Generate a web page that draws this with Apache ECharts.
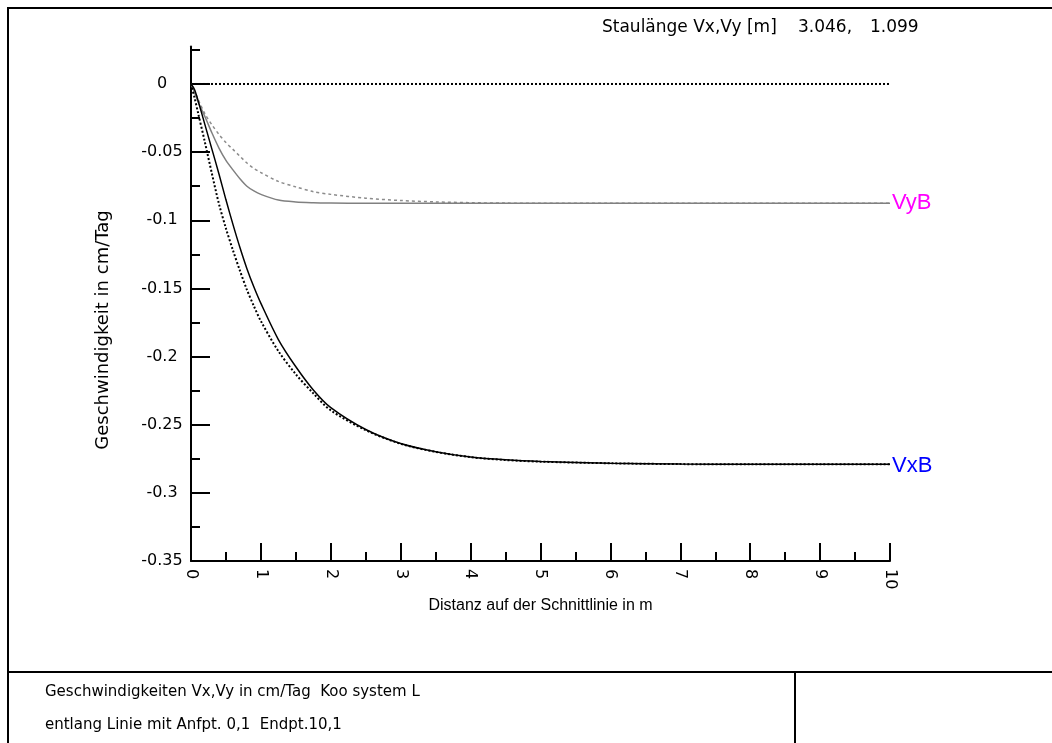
<!DOCTYPE html>
<html>
<head>
<meta charset="utf-8">
<script src="https://cdn.jsdelivr.net/npm/echarts@6/dist/echarts.min.js"></script>
<style>
  html, body { margin: 0; padding: 0; background: #fff; }
  #chart { width: 1052px; height: 743px; }
</style>
</head>
<body>
<div id="chart"></div>
<script>
  // distance along the cut line (m)
  const distX = [0, 0.05, 0.1, 0.2, 0.3, 0.4, 0.5, 0.6, 0.7, 0.8, 0.9, 1.0, 1.25, 1.5, 1.75, 2.0, 2.5, 3.0, 3.5, 4.0, 4.5, 5.0, 6.0, 7.0, 8.0, 9.0, 10.0]
  // Vx solid / dotted
  const vxB = [0, -0.004, -0.012, -0.030, -0.048, -0.066, -0.085, -0.103, -0.120, -0.1355, -0.149, -0.161, -0.1875, -0.2075, -0.2245, -0.2375, -0.2535, -0.2638, -0.2698, -0.2737, -0.2758, -0.2770, -0.2783, -0.2789, -0.279, -0.279, -0.279]
  const vxDot = [0, -0.010, -0.021, -0.043, -0.066, -0.088, -0.106, -0.122, -0.137, -0.151, -0.163, -0.174, -0.196, -0.213, -0.227, -0.2395, -0.2540, -0.2640, -0.2699, -0.2738, -0.2759, -0.2771, -0.2783, -0.2789, -0.279, -0.279, -0.279]
  // Vy solid / dashed (grey)
  const vyB = [0, -0.006, -0.013, -0.024, -0.036, -0.047, -0.056, -0.063, -0.0695, -0.075, -0.0785, -0.081, -0.0852, -0.0866, -0.0871, -0.0873, -0.0875, -0.0875, -0.0875, -0.0875, -0.0875, -0.0875, -0.0875, -0.0875, -0.0875, -0.0875, -0.0875]
  const vyDash = [0, -0.005, -0.011, -0.022, -0.030, -0.037, -0.043, -0.048, -0.053, -0.058, -0.062, -0.065, -0.0715, -0.0755, -0.079, -0.081, -0.0838, -0.0855, -0.0865, -0.0871, -0.0874, -0.0875, -0.0875, -0.0875, -0.0875, -0.0875, -0.0875]
  const zeroX = [0, 10]
  const zeroY = [0, 0]

  const yMajorTicks = [-0.35, -0.3, -0.25, -0.2, -0.15, -0.1, -0.05, 0]
  const yTickLabels = ['-0.35', '-0.3', '-0.25', '-0.2', '-0.15', '-0.1', '-0.05', '0']
  const yMinorTicks = [-0.325, -0.275, -0.225, -0.175, -0.125, -0.075, -0.025, 0.025]
  const xMajorTicks = [0, 1, 2, 3, 4, 5, 6, 7, 8, 9, 10]
  const xTickLabels = ['0', '1', '2', '3', '4', '5', '6', '7', '8', '9', '10']
  const xMinorTicks = [0.5, 1.5, 2.5, 3.5, 4.5, 5.5, 6.5, 7.5, 8.5, 9.5]

  const FONT = 'Liberation Sans'
  const WIDE = 'DejaVu Sans'

  function pairs(xs, ys) {
    return xs.map((x, i) => [x, ys[i]])
  }
  function lookup(ticks, labels, v) {
    for (let i = 0; i < ticks.length; i++) {
      if (Math.abs(ticks[i] - v) < 1e-9) return labels[i]
    }
    return ''
  }

  const myChart = echarts.init(document.getElementById('chart'), null, { renderer: 'canvas' })
  const option = {
    animation: false,
    backgroundColor: '#fff',
    grid: {
      left: 191,
      right: 162,
      top: 46.5,
      bottom: 182,
      containLabel: false,
      outerBoundsMode: 'none'
    },
    xAxis: [
      {
        type: 'value',
        min: 0,
        max: 10,
        position: 'bottom',
        name: 'Distanz auf der Schnittlinie in m',
        nameLocation: 'middle',
        nameGap: 37,
        nameTextStyle: { color: '#000', fontSize: 16, fontFamily: FONT },
        axisLine: { show: true, onZero: false, lineStyle: { color: '#000', width: 2 } },
        axisTick: { show: true, inside: true, length: 18, customValues: xMajorTicks, lineStyle: { color: '#000', width: 2 } },
        axisLabel: {
          show: true,
          customValues: xMajorTicks,
          rotate: -90,
          margin: 8,
          color: '#000',
          fontSize: 16,
          fontFamily: WIDE,
          formatter: (v) => lookup(xMajorTicks, xTickLabels, v)
        },
        splitLine: { show: false }
      },
      {
        type: 'value',
        min: 0,
        max: 10,
        position: 'bottom',
        axisLine: { show: false, onZero: false },
        axisTick: { show: true, inside: true, length: 9, customValues: xMinorTicks, lineStyle: { color: '#000', width: 2 } },
        axisLabel: { show: false },
        splitLine: { show: false }
      }
    ],
    yAxis: [
      {
        type: 'value',
        min: -0.35,
        max: 0.0275,
        position: 'left',
        axisLine: { show: true, onZero: false, lineStyle: { color: '#000', width: 2 } },
        axisTick: { show: true, inside: true, length: 19, customValues: yMajorTicks, lineStyle: { color: '#000', width: 2 } },
        axisLabel: {
          show: true,
          customValues: yMajorTicks,
          align: 'center',
          margin: 29,
          color: '#000',
          fontSize: 16,
          fontFamily: WIDE,
          formatter: (v) => lookup(yMajorTicks, yTickLabels, v)
        },
        splitLine: { show: false }
      },
      {
        type: 'value',
        min: -0.35,
        max: 0.0275,
        position: 'left',
        axisLine: { show: false, onZero: false },
        axisTick: { show: true, inside: true, length: 9, customValues: yMinorTicks, lineStyle: { color: '#000', width: 2 } },
        axisLabel: { show: false },
        splitLine: { show: false }
      }
    ],
    series: [
      {
        name: 'zero',
        type: 'line',
        data: pairs(zeroX, zeroY),
        showSymbol: false,
        lineStyle: { color: '#000', width: 2, type: [2, 2] }
      },
      {
        name: 'VyDash',
        type: 'line',
        data: pairs(distX, vyDash),
        smooth: 0.3,
        showSymbol: false,
        lineStyle: { color: '#8c8c8c', width: 1.5, type: [3, 3] }
      },
      {
        name: 'VyB',
        type: 'line',
        data: pairs(distX, vyB),
        smooth: 0.3,
        showSymbol: false,
        lineStyle: { color: '#808080', width: 1.5 },
        endLabel: { show: true, formatter: 'VyB', color: '#ff00ff', fontSize: 22, fontFamily: FONT, distance: 2 }
      },
      {
        name: 'VxDot',
        type: 'line',
        data: pairs(distX, vxDot),
        smooth: 0.3,
        showSymbol: false,
        lineStyle: { color: '#000', width: 2, type: [2, 2] }
      },
      {
        name: 'VxB',
        type: 'line',
        data: pairs(distX, vxB),
        smooth: 0.3,
        showSymbol: false,
        lineStyle: { color: '#000', width: 1.5 },
        endLabel: { show: true, formatter: 'VxB', color: '#0000ff', fontSize: 22, fontFamily: FONT, distance: 2, offset: [0, 2] }
      }
    ],
    graphic: [
      // frame
      { type: 'line', shape: { x1: 7, y1: 8, x2: 1052, y2: 8 }, style: { stroke: '#000', lineWidth: 2 } },
      { type: 'line', shape: { x1: 8, y1: 8, x2: 8, y2: 743 }, style: { stroke: '#000', lineWidth: 2 } },
      { type: 'line', shape: { x1: 8, y1: 672, x2: 1052, y2: 672 }, style: { stroke: '#000', lineWidth: 2 } },
      { type: 'line', shape: { x1: 795, y1: 672, x2: 795, y2: 743 }, style: { stroke: '#000', lineWidth: 2 } },
      // y axis title
      {
        type: 'text', x: 103, y: 330, rotation: Math.PI / 2,
        style: { text: 'Geschwindigkeit in cm/Tag', fill: '#000', fontSize: 18, fontFamily: WIDE, align: 'center', verticalAlign: 'middle' }
      },
      // top right note
      { type: 'text', x: 602, y: 28, style: { text: 'Staulänge Vx,Vy [m]', fill: '#000', fontSize: 17, fontFamily: WIDE, verticalAlign: 'middle' } },
      { type: 'text', x: 798, y: 28, style: { text: '3.046,', fill: '#000', fontSize: 17, fontFamily: WIDE, verticalAlign: 'middle' } },
      { type: 'text', x: 870, y: 28, style: { text: '1.099', fill: '#000', fontSize: 17, fontFamily: WIDE, verticalAlign: 'middle' } },
      // footer
      { type: 'text', x: 45, y: 692, style: { text: 'Geschwindigkeiten Vx,Vy in cm/Tag  Koo system L', fill: '#000', fontSize: 15, fontFamily: WIDE, verticalAlign: 'middle' } },
      { type: 'text', x: 45, y: 725, style: { text: 'entlang Linie mit Anfpt. 0,1  Endpt.10,1', fill: '#000', fontSize: 15, fontFamily: WIDE, verticalAlign: 'middle' } }
    ]
  }
  myChart.setOption(option)
</script>
</body>
</html>
